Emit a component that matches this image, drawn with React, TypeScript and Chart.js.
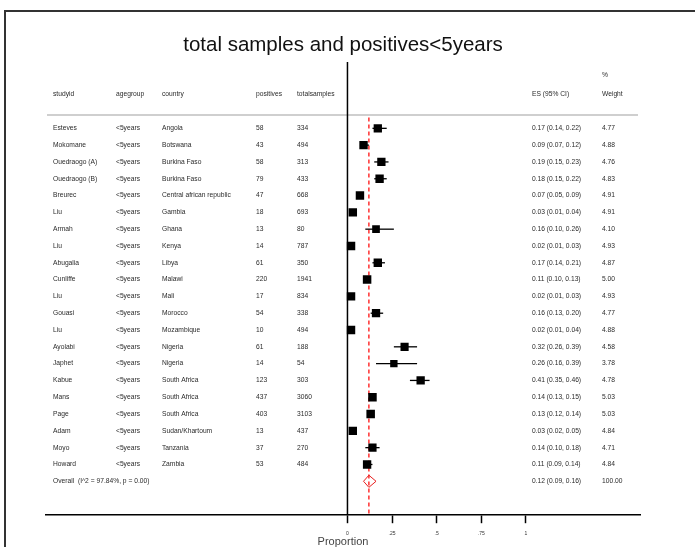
import React, { useEffect, useRef } from 'react';
import { Chart, registerables } from 'chart.js';
Chart.register(...registerables);

const titleText = 'total samples and positives<5years';
const studies = ['Esteves', 'Mokomane', 'Ouedraogo (A)', 'Ouedraogo (B)', 'Breurec', 'Liu', 'Armah', 'Liu', 'Abugalia', 'Cunliffe', 'Liu', 'Gouasi', 'Liu', 'Ayolabi', 'Japhet', 'Kabue', 'Mans', 'Page', 'Adam', 'Moyo', 'Howard'];
const ageGroups = ['<5years', '<5years', '<5years', '<5years', '<5years', '<5years', '<5years', '<5years', '<5years', '<5years', '<5years', '<5years', '<5years', '<5years', '<5years', '<5years', '<5years', '<5years', '<5years', '<5years', '<5years'];
const countries = ['Angola', 'Botswana', 'Burkina Faso', 'Burkina Faso', 'Central african republic', 'Gambia', 'Ghana', 'Kenya', 'Libya', 'Malawi', 'Mali', 'Morocco', 'Mozambique', 'Nigeria', 'Nigeria', 'South Africa', 'South Africa', 'South Africa', 'Sudan/Khartoum', 'Tanzania', 'Zambia'];
const positives = [58, 43, 58, 79, 47, 18, 13, 14, 61, 220, 17, 54, 10, 61, 14, 123, 437, 403, 13, 37, 53];
const totalSamples = [334, 494, 313, 433, 668, 693, 80, 787, 350, 1941, 834, 338, 494, 188, 54, 303, 3060, 3103, 437, 270, 484];
const es = [0.17, 0.09, 0.19, 0.18, 0.07, 0.03, 0.16, 0.02, 0.17, 0.11, 0.02, 0.16, 0.02, 0.32, 0.26, 0.41, 0.14, 0.13, 0.03, 0.14, 0.11];
const ciLow = [0.14, 0.07, 0.15, 0.15, 0.05, 0.01, 0.10, 0.01, 0.14, 0.10, 0.01, 0.13, 0.01, 0.26, 0.16, 0.35, 0.13, 0.12, 0.02, 0.10, 0.09];
const ciHigh = [0.22, 0.12, 0.23, 0.22, 0.09, 0.04, 0.26, 0.03, 0.21, 0.13, 0.03, 0.20, 0.04, 0.39, 0.39, 0.46, 0.15, 0.14, 0.05, 0.18, 0.14];
const weights = [4.77, 4.88, 4.76, 4.83, 4.91, 4.91, 4.10, 4.93, 4.87, 5.00, 4.93, 4.77, 4.88, 4.58, 3.78, 4.78, 5.03, 5.03, 4.84, 4.71, 4.84];
const overallLabel = 'Overall  (I^2 = 97.84%, p = 0.00)';
const overallES = 0.12;
const overallLow = 0.09;
const overallHigh = 0.16;
const overallWeight = '100.00';
const tickValues = [0, 0.25, 0.5, 0.75, 1];
const tickLabels = ['0', '.25', '.5', '.75', '1'];
const headers = ['studyid', 'agegroup', 'country', 'positives', 'totalsamples', 'ES (95% CI)', 'Weight'];

const rows = studies.map((_, i) => i + 1);
const overallRow = studies.length + 1;

const fmt = (v: number) => v.toFixed(2);

const forestPlugin = {
  id: 'forest',
  beforeDraw(chart: any) {
    const ctx = chart.ctx;
    ctx.save();
    ctx.fillStyle = '#fff';
    ctx.fillRect(0, 0, chart.width, chart.height);
    ctx.strokeStyle = '#333';
    ctx.lineWidth = 2;
    ctx.beginPath();
    ctx.moveTo(5, chart.height);
    ctx.lineTo(5, 11);
    ctx.lineTo(chart.width, 11);
    ctx.stroke();
    ctx.restore();
  },
  beforeDatasetsDraw(chart: any) {
    const ctx = chart.ctx;
    const x = chart.scales.x;
    const y = chart.scales.y;
    const area = chart.chartArea;
    ctx.save();
    ctx.strokeStyle = '#cfcfcf';
    ctx.lineWidth = 2;
    ctx.beginPath();
    ctx.moveTo(area.left + 1, y.getPixelForValue(0.2));
    ctx.lineTo(area.right - 2, y.getPixelForValue(0.2));
    ctx.stroke();
    ctx.strokeStyle = '#000';
    ctx.lineWidth = 1.5;
    ctx.beginPath();
    ctx.moveTo(x.getPixelForValue(0), area.top);
    ctx.lineTo(x.getPixelForValue(0), area.bottom);
    ctx.stroke();
    ctx.strokeStyle = '#ff3030';
    ctx.lineWidth = 1.5;
    ctx.setLineDash([4, 3]);
    ctx.beginPath();
    ctx.moveTo(x.getPixelForValue(overallES), y.getPixelForValue(0.35));
    ctx.lineTo(x.getPixelForValue(overallES), area.bottom);
    ctx.stroke();
    ctx.setLineDash([]);
    ctx.strokeStyle = '#000';
    ctx.lineWidth = 1.3;
    rows.forEach((r, i) => {
      const py = y.getPixelForValue(r);
      ctx.beginPath();
      ctx.moveTo(x.getPixelForValue(ciLow[i]), py);
      ctx.lineTo(x.getPixelForValue(ciHigh[i]), py);
      ctx.stroke();
    });
    const cy = y.getPixelForValue(overallRow);
    const h = Math.abs(y.getPixelForValue(overallRow + 0.36) - cy);
    ctx.strokeStyle = '#e82020';
    ctx.lineWidth = 1;
    ctx.beginPath();
    ctx.moveTo(x.getPixelForValue(overallLow), cy);
    ctx.lineTo(x.getPixelForValue(overallES), cy - h);
    ctx.lineTo(x.getPixelForValue(overallHigh), cy);
    ctx.lineTo(x.getPixelForValue(overallES), cy + h);
    ctx.closePath();
    ctx.stroke();
    ctx.restore();
  },
  afterDraw(chart: any) {
    const ctx = chart.ctx;
    const y = chart.scales.y;
    const colX = [53, 116, 162, 256, 297, 532, 602];
    ctx.save();
    ctx.fillStyle = '#2a2a2a';
    ctx.font = '6.7px "Liberation Sans", Arial, sans-serif';
    ctx.textBaseline = 'middle';
    ctx.textAlign = 'left';
    ctx.fillText('%', colX[6], y.getPixelForValue(-2.14));
    const hy = y.getPixelForValue(-1.05);
    headers.forEach((h, i) => ctx.fillText(h, colX[i], hy));
    rows.forEach((r, i) => {
      const py = y.getPixelForValue(r);
      ctx.fillText(studies[i], colX[0], py);
      ctx.fillText(ageGroups[i], colX[1], py);
      ctx.fillText(countries[i], colX[2], py);
      ctx.fillText(String(positives[i]), colX[3], py);
      ctx.fillText(String(totalSamples[i]), colX[4], py);
      ctx.fillText(`${fmt(es[i])} (${fmt(ciLow[i])}, ${fmt(ciHigh[i])})`, colX[5], py);
      ctx.fillText(fmt(weights[i]), colX[6], py);
    });
    const oy = y.getPixelForValue(overallRow);
    ctx.fillText(overallLabel, colX[0], oy);
    ctx.fillText(`${fmt(overallES)} (${fmt(overallLow)}, ${fmt(overallHigh)})`, colX[5], oy);
    ctx.fillText(overallWeight, colX[6], oy);
    ctx.restore();
  },
};

export default function App() {
  const ref = useRef<HTMLCanvasElement | null>(null);
  useEffect(() => {
    if (!ref.current) return;
    const chart = new Chart(ref.current, {
      type: 'scatter',
      data: {
        datasets: [
          {
            data: rows.map((r, i) => ({ x: es[i], y: r })),
            pointStyle: 'rect',
            pointRadius: weights.map((w) => (3.8 * Math.sqrt(w)) / Math.SQRT2),
            pointBackgroundColor: '#000',
            pointBorderColor: '#000',
            pointBorderWidth: 0,
          },
        ],
      },
      options: {
        responsive: false,
        animation: false,
        devicePixelRatio: 1,
        layout: { padding: { left: 46, right: 55, top: 32.7, bottom: 0 } },
        plugins: {
          legend: { display: false },
          tooltip: { enabled: false },
          title: {
            display: true,
            text: titleText,
            color: '#111',
            font: { size: 20.5, weight: 'normal', family: '"Liberation Sans", Arial, sans-serif' },
            padding: { top: 0, bottom: 4.7 },
          },
        },
        scales: {
          x: {
            type: 'linear',
            min: -1.689,
            max: 1.639,
            afterBuildTicks: (scale: any) => {
              scale.ticks = tickValues.map((v) => ({ value: v }));
            },
            grid: {
              display: true,
              drawOnChartArea: false,
              drawTicks: true,
              tickLength: 8,
              tickColor: '#000',
              tickWidth: 1.5,
            },
            border: { display: true, color: '#000', width: 1.5 },
            ticks: {
              autoSkip: false,
              maxRotation: 0,
              padding: 7,
              color: '#333',
              font: { size: 5, family: '"Liberation Sans", Arial, sans-serif' },
              callback: (v: any) => {
                const idx = tickValues.indexOf(Number(v));
                return idx >= 0 ? tickLabels[idx] : '';
              },
            },
            title: {
              display: true,
              text: 'Proportion',
              color: '#444',
              padding: { top: -7.4, bottom: 0 },
              font: { size: 11, family: '"Liberation Sans", Arial, sans-serif' },
            },
          },
          y: {
            type: 'linear',
            display: false,
            reverse: true,
            min: -2.946,
            max: 24.018,
          },
        },
      },
      plugins: [forestPlugin],
    });
    return () => chart.destroy();
  }, []);
  return (
    <div style={{ position: 'fixed', left: 0, top: 0, width: 695, height: 547, overflow: 'hidden' }}>
      <canvas ref={ref} width={695} height={549} style={{ display: 'block' }} />
    </div>
  );
}
